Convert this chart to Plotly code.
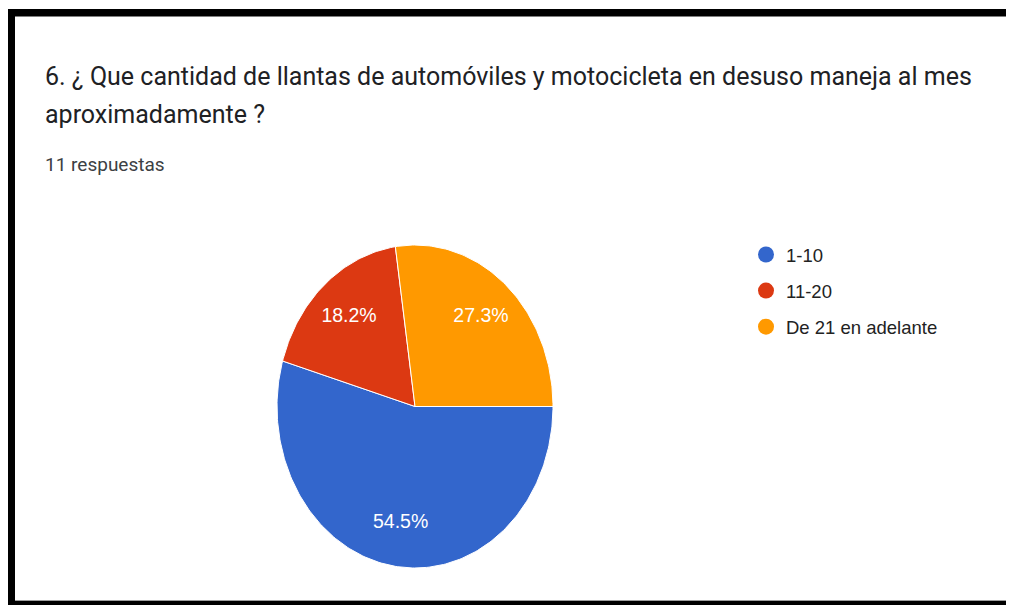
import math
import plotly.graph_objects as go

# ---- data ----
categories = ["1-10", "11-20", "De 21 en adelante"]
counts = [6, 2, 3]
colors = ["#3366CC", "#DC3912", "#FF9900"]
title_line1 = "6. ¿ Que cantidad de llantas de automóviles y motocicleta en desuso maneja al mes"
title_line2 = "aproximadamente ?"
subtitle = "11 respuestas"

# page offset of the plot div (browser body margin)
OX, OY = 8, 8
W, H = 1014 - OX, 605 - OY
total = sum(counts)


def px(x):
    return (x - OX) / W


def py(y):
    return 1 - (y - OY) / H


fig = go.Figure()

# pie drawn as filled slices on a unit ellipse (axes stretch it like the reference)
start = 0.0  # degrees, clockwise from 3 o'clock
label_r = 0.73
lx, ly, lt = [], [], []
for cat, v, col in zip(categories, counts, colors):
    span = 360.0 * v / total
    n = max(int(span / 1.0), 2)
    xs, ys = [0.0], [0.0]
    for i in range(n + 1):
        a = math.radians(start + span * i / n)
        xs.append(math.cos(a))
        ys.append(-math.sin(a))
    xs.append(0.0)
    ys.append(0.0)
    fig.add_trace(go.Scatter(
        x=xs, y=ys, mode="lines", fill="toself", fillcolor=col,
        line=dict(color="white", width=1), showlegend=False, hoverinfo="skip"))
    mid = math.radians(start + span / 2)
    lx.append(label_r * math.cos(mid))
    ly.append(-label_r * math.sin(mid))
    lt.append(f"{v / total * 100:.1f}%")
    start += span

label_family = "Liberation Sans, Arial, sans-serif"
fig.add_trace(go.Scatter(
    x=lx, y=ly, mode="text", text=lt,
    textfont=dict(family=label_family, size=19.5, color="white"),
    showlegend=False, hoverinfo="skip"))

# legend entries with round markers
for i, (cat, col) in enumerate(zip(categories, colors)):
    fig.add_trace(go.Scatter(
        x=[None], y=[None], mode="markers", name=cat,
        marker=dict(color=col, size=16, symbol="circle"),
        legendgroup=f"g{i}", showlegend=True))

fig.update_layout(
    width=W, height=H,
    margin=dict(l=0, r=0, t=0, b=0),
    paper_bgcolor="white", plot_bgcolor="white",
    xaxis=dict(domain=[px(277), px(553)], range=[-1, 1], visible=False, fixedrange=True),
    yaxis=dict(domain=[py(568), py(245)], range=[-1, 1], visible=False, fixedrange=True),
    showlegend=True,
    legend=dict(
        x=px(746), y=py(236), xanchor="left", yanchor="top",
        font=dict(family=label_family, size=18.5, color="#222222"),
        tracegroupgap=9, itemsizing="trace", bgcolor="rgba(0,0,0,0)"),
    hovermode=False,
)

title_font = dict(family="Roboto, Arial", size=25, color="#202124")
fig.add_annotation(text=title_line1, x=px(43), y=py(76), xref="paper", yref="paper",
                   xanchor="left", yanchor="middle", showarrow=False, font=title_font)
fig.add_annotation(text=title_line2, x=px(43), y=py(115), xref="paper", yref="paper",
                   xanchor="left", yanchor="middle", showarrow=False, font=title_font)
fig.add_annotation(text=subtitle, x=px(43), y=py(164), xref="paper", yref="paper",
                   xanchor="left", yanchor="middle", showarrow=False,
                   font=dict(family="Roboto, Arial", size=19, color="#3c4043"))


# screenshot frame
def rect(x0, y0, x1, y1, color):
    fig.add_shape(type="rect", xref="paper", yref="paper",
                  x0=px(x0), x1=px(x1), y0=py(y1), y1=py(y0),
                  fillcolor=color, line=dict(width=0), layer="above")


rect(7, 9, 1014, 16.5, "#000000")
rect(7, 9, 15, 605, "#000000")
rect(15, 600, 1014, 601, "#9e9e9e")
rect(15, 601, 1014, 605, "#000000")

fig.write_html("out.html")
